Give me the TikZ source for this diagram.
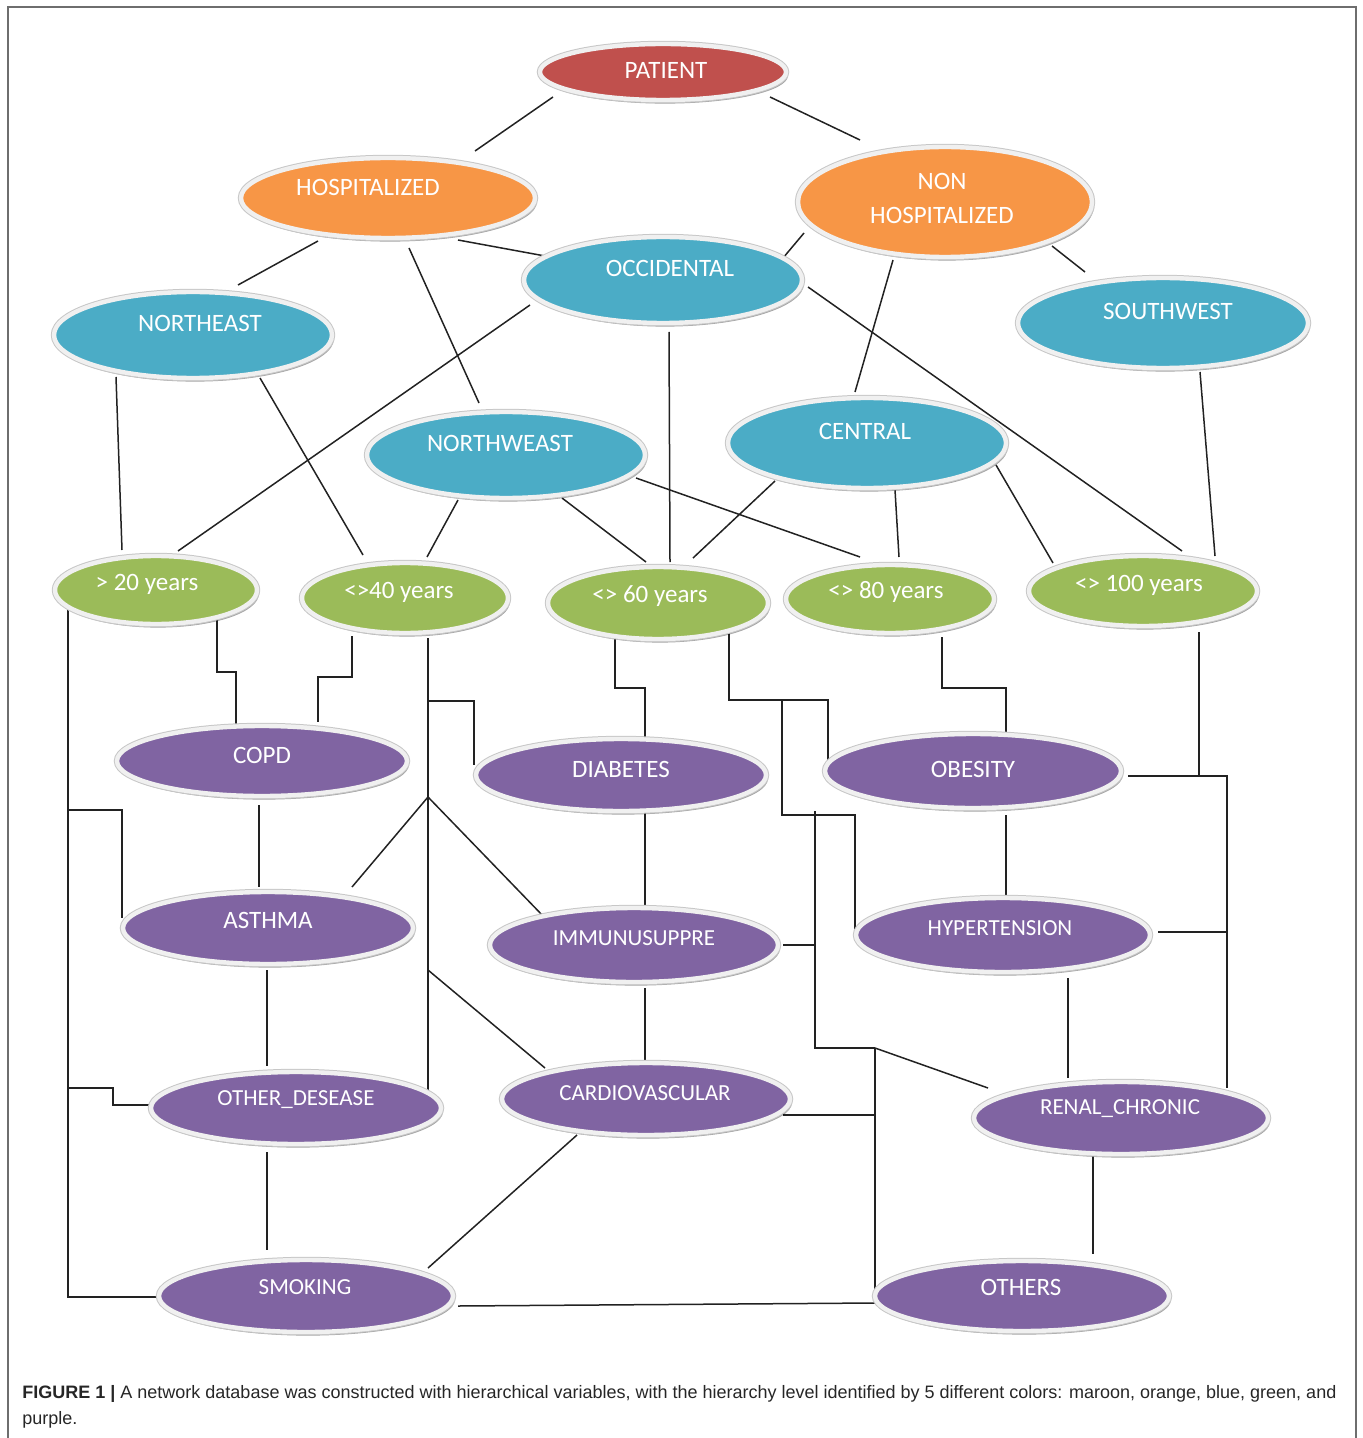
\documentclass[tikz,border=0pt]{standalone}
\usepackage{fontspec}
\setmainfont{Carlito}
\newfontfamily\capfont{Liberation Sans}
\usetikzlibrary{shapes.geometric,calc,shadows,backgrounds}
\definecolor{cMaroon}{HTML}{C0504D}
\definecolor{cOrange}{HTML}{F79646}
\definecolor{cBlue}{HTML}{4BACC6}
\definecolor{cGreen}{HTML}{9BBB59}
\definecolor{cPurple}{HTML}{8064A2}
\definecolor{cLine}{HTML}{222222}
\definecolor{cFrame}{HTML}{6E6E6E}
\definecolor{cCap}{HTML}{262626}
\begin{document}
\begin{tikzpicture}[x={(0.5pt,0)}, y={(0,-0.5pt)},
  ell/.style={ellipse, inner sep=0pt, fill=#1, draw=white!94!black, line width=2.2pt,
    drop shadow={shadow xshift=1pt, shadow yshift=-1.8pt, opacity=.35, fill=black},
    preaction={draw=black!22, line width=3.2pt}},
  lbl/.style={text=white, font=\fontsize{12.5}{14}\selectfont},
  lbls/.style={text=white, font=\fontsize{11.5}{13}\selectfont},
  conn/.style={draw=cLine, line width=0.75pt},
]
\useasboundingbox (0,0) rectangle (1363,1438);
\draw[cFrame, line width=1pt] (8,1445) -- (8,7) -- (1356,7) -- (1356,1445);

% level 1-2
\node[ell=cMaroon, minimum width=123pt, minimum height=28pt,
  label={[lbl,xshift=1.5pt,yshift=1pt]center:PATIENT}] (pat) at (663,72) {};
\node[ell=cOrange, minimum width=147pt, minimum height=40pt,
  label={[lbl,xshift=-10pt,yshift=5.5pt]center:HOSPITALIZED}] (hosp) at (388,198) {};
\node[ell=cOrange, minimum width=147pt, minimum height=55pt,
  label={[lbl,align=center,font=\fontsize{12.5}{17}\selectfont,xshift=-1.5pt,yshift=2pt]center:{NON\\HOSPITALIZED}}] (non) at (945,202) {};
% level 3
\node[ell=cBlue, minimum width=139pt, minimum height=43pt,
  label={[lbl,xshift=3.5pt,yshift=6pt]center:OCCIDENTAL}] (occ) at (663,280) {};
\node[ell=cBlue, minimum width=139pt, minimum height=43pt,
  label={[lbl,xshift=3.5pt,yshift=6pt]center:NORTHEAST}] (ne) at (193,335) {};
\node[ell=cBlue, minimum width=145pt, minimum height=45pt,
  label={[lbl,xshift=2.5pt,yshift=6pt]center:SOUTHWEST}] (sw) at (1163,323) {};
\node[ell=cBlue, minimum width=139pt, minimum height=43pt,
  label={[lbl,xshift=-3pt,yshift=6pt]center:NORTHWEAST}] (nw) at (506,455) {};
\node[ell=cBlue, minimum width=139pt, minimum height=45pt,
  label={[lbl,xshift=-1pt,yshift=6pt]center:CENTRAL}] (cen) at (867,443) {};
% level 4
\node[ell=cGreen, minimum width=101pt, minimum height=34pt,
  label={[lbl,xshift=-4.5pt,yshift=3pt]center:{> 20 years}}] (y20) at (156,590) {};
\node[ell=cGreen, minimum width=103pt, minimum height=35pt,
  label={[lbl,xshift=-3pt,yshift=3pt]center:{<>40 years}}] (y40) at (405,598) {};
\node[ell=cGreen, minimum width=110pt, minimum height=36pt,
  label={[lbl,xshift=-4pt,yshift=3.5pt]center:{<> 60 years}}] (y60) at (658,603) {};
\node[ell=cGreen, minimum width=104pt, minimum height=34pt,
  label={[lbl,xshift=-2pt,yshift=3.5pt]center:{<> 80 years}}] (y80) at (890,599) {};
\node[ell=cGreen, minimum width=114pt, minimum height=35pt,
  label={[lbl,xshift=-2pt,yshift=3pt]center:{<> 100 years}}] (y100) at (1143,591) {};
% level 5
\node[ell=cPurple, minimum width=145pt, minimum height=35pt,
  label={[lbl,yshift=3pt]center:COPD}] (copd) at (262,761) {};
\node[ell=cPurple, minimum width=145pt, minimum height=36pt,
  label={[lbl,yshift=3pt]center:DIABETES}] (diab) at (621,775) {};
\node[ell=cPurple, minimum width=148pt, minimum height=37pt,
  label={[lbl,yshift=1pt]center:OBESITY}] (obes) at (973,771) {};
\node[ell=cPurple, minimum width=145pt, minimum height=36pt,
  label={[lbl,yshift=4pt]center:ASTHMA}] (asth) at (268,928) {};
\node[ell=cPurple, minimum width=144pt, minimum height=37pt,
  label={[lbls,yshift=3.5pt]center:IMMUNUSUPPRE}] (imm) at (634,945) {};
\node[ell=cPurple, minimum width=147pt, minimum height=37pt,
  label={[lbls,xshift=-1.5pt,yshift=3.5pt]center:HYPERTENSION}] (hyp) at (1003,935) {};
\node[ell=cPurple, minimum width=145pt, minimum height=36pt,
  label={[lbls,yshift=4pt]center:OTHER\_DESEASE}] (oth) at (296,1108) {};
\node[ell=cPurple, minimum width=144pt, minimum height=36pt,
  label={[lbls,xshift=-.5pt,yshift=3pt]center:CARDIOVASCULAR}] (card) at (646,1099) {};
\node[ell=cPurple, minimum width=147pt, minimum height=36pt,
  label={[lbls,xshift=-.5pt,yshift=4.5pt]center:RENAL\_CHRONIC}] (ren) at (1121,1118) {};
\node[ell=cPurple, minimum width=147pt, minimum height=36pt,
  label={[lbls,xshift=-.5pt,yshift=4.5pt]center:SMOKING}] (smok) at (306,1296) {};
\node[ell=cPurple, minimum width=147pt, minimum height=35pt,
  label={[lbl,xshift=-.5pt,yshift=4.5pt]center:OTHERS}] (others) at (1022,1296) {};

% junctions
\coordinate (tL) at ($(y20)+(-88,18)$);
\coordinate (tM) at ($(y40)+(23,40)$);
\coordinate (j1) at ($(tM)+(0,159)$);
\coordinate (j2) at ($(tM)+(0,332)$);
\coordinate (tR) at ($(y60)+(71,29)$);
\coordinate (j3) at ($(tR)+(53,68)$);
\coordinate (j4) at ($(j3)+(33,111)$);
\coordinate (j5) at ($(j4)+(60,237)$);

\begin{scope}[on background layer]
% level 1-2
\draw[conn] ($(pat)+(-110,25)$) -- ($(hosp)+(87,-47)$);
\draw[conn] ($(pat)+(107,25)$) -- ($(non)+(-85,-62)$);
% level 2-3
\draw[conn] ($(hosp)+(-70,43)$) -- ($(ne)+(45,-50)$);
\draw[conn] ($(hosp)+(21,50)$) -- ($(nw)+(-27,-52)$);
\draw[conn] ($(hosp)+(70,42)$) -- ($(occ)+(-118,-24)$);
\draw[conn] ($(non)+(-141,31)$) -- ($(occ)+(120,-22)$);
\draw[conn] ($(non)+(-52,58)$) -- ($(cen)+(-12,-51)$);
\draw[conn] ($(non)+(107,44)$) -- ($(sw)+(-78,-51)$);
% level 3-4
\draw[conn] ($(ne)+(-77,42)$) -- ($(y20)+(-34,-40)$);
\draw[conn] ($(ne)+(67,43)$) -- ($(y40)+(-42,-43)$);
\draw[conn] ($(occ)+(-133,25)$) -- ($(y20)+(22,-39)$);
\draw[conn] ($(occ)+(6,52)$) -- ($(y60)+(12,-41)$);
\draw[conn] ($(occ)+(145,7)$) -- ($(y100)+(39,-40)$);
\draw[conn] ($(nw)+(-48,45)$) -- ($(y40)+(22,-41)$);
\draw[conn] ($(nw)+(56,43)$) -- ($(y60)+(-12,-41)$);
\draw[conn] ($(nw)+(130,23)$) -- ($(y80)+(-30,-42)$);
\draw[conn] ($(cen)+(-92,38)$) -- ($(y60)+(35,-45)$);
\draw[conn] ($(cen)+(28,47)$) -- ($(y80)+(9,-42)$);
\draw[conn] ($(cen)+(129,22)$) -- ($(y100)+(-90,-28)$);
\draw[conn] ($(sw)+(37,49)$) -- ($(y100)+(72,-35)$);
% level 4-5
\draw[conn] ($(y20)+(61,28)$) -- ++(0,54) -| ($(copd)+(-26,-35)$);
\draw[conn] ($(y40)+(-53,38)$) -- ++(0,41) -| ($(copd)+(56,-39)$);
\draw[conn] (tL) |- ($(smok)+(-146,1)$);
\draw[conn] ($(tL)+(0,202)$) -| ($(asth)+(-146,-10)$);
\draw[conn] ($(tL)+(0,480)$) -- ++(45,0) |- ($(oth)+(-139,-3)$);
\draw[conn] (tM) -- ($(oth)+(132,-18)$);
\draw[conn] ($(tM)+(0,63)$) -| ($(diab)+(-147,-10)$);
\draw[conn] (j1) -- ($(asth)+(84,-41)$);
\draw[conn] (j1) -- ($(imm)+(-89,-27)$);
\draw[conn] (j2) -- ($(card)+(-101,-31)$);
\draw[conn] ($(y60)+(-43,34)$) -- ++(0,51) -| ($(diab)+(24,-37)$);
\draw[conn] (tR) -- ++(0,68) -| ($(obes)+(-145,-6)$);
\draw[conn] (j3) -- ++(0,115) -| ($(hyp)+(-148,-5)$);
\draw[conn] (j4) |- (j5);
\draw[conn] (j5) -- ($(ren)+(-133,-30)$);
\draw[conn] (j5) -- ($(others)+(-147,-6)$);
\draw[conn] ($(imm)+(149,0)$) -- (j4 |- imm);
\draw[conn] ($(card)+(137,16)$) -- ++(92,0);
\draw[conn] ($(y80)+(52,38)$) -- ++(0,51) -| ($(obes)+(33,-36)$);
\draw[conn] ($(y100)+(56,41)$) -- ++(0,144);
\draw[conn] ($(obes)+(155,5)$) -| ($(ren)+(106,-30)$);
\draw[conn] ($(hyp)+(155,-3)$) -- ++(69,0);
% among level 5
\draw[conn] ($(copd)+(-3,44)$) -- ($(asth)+(-9,-41)$);
\draw[conn] ($(asth)+(-1,42)$) -- ($(oth)+(-29,-42)$);
\draw[conn] ($(oth)+(-29,44)$) -- ($(smok)+(-39,-46)$);
\draw[conn] ($(diab)+(24,37)$) -- ($(imm)+(11,-39)$);
\draw[conn] ($(imm)+(11,43)$) -- ($(card)+(-1,-32)$);
\draw[conn] ($(obes)+(33,44)$) -- ($(hyp)+(3,-38)$);
\draw[conn] ($(hyp)+(65,43)$) -- ($(ren)+(-53,-40)$);
\draw[conn] ($(ren)+(-28,37)$) -- ($(others)+(71,-42)$);
\draw[conn] ($(card)+(-69,36)$) -- ($(smok)+(122,-28)$);
\draw[conn] ($(smok)+(152,10)$) -- ($(others)+(-147,7)$);
\end{scope}

% caption
\node[anchor=west, inner sep=0pt, text=cCap, font=\capfont\fontsize{9}{11}\selectfont] (cap1) at (22,1394)
  {\textbf{FIGURE 1 |} A network database was constructed with hierarchical variables, with the hierarchy level identified by 5 different colors: maroon, orange, blue, green, and};
\node[anchor=west, inner sep=0pt, text=cCap, font=\capfont\fontsize{9}{11}\selectfont] (cap2) at (22,1420) {purple.};
\end{tikzpicture}
\end{document}
